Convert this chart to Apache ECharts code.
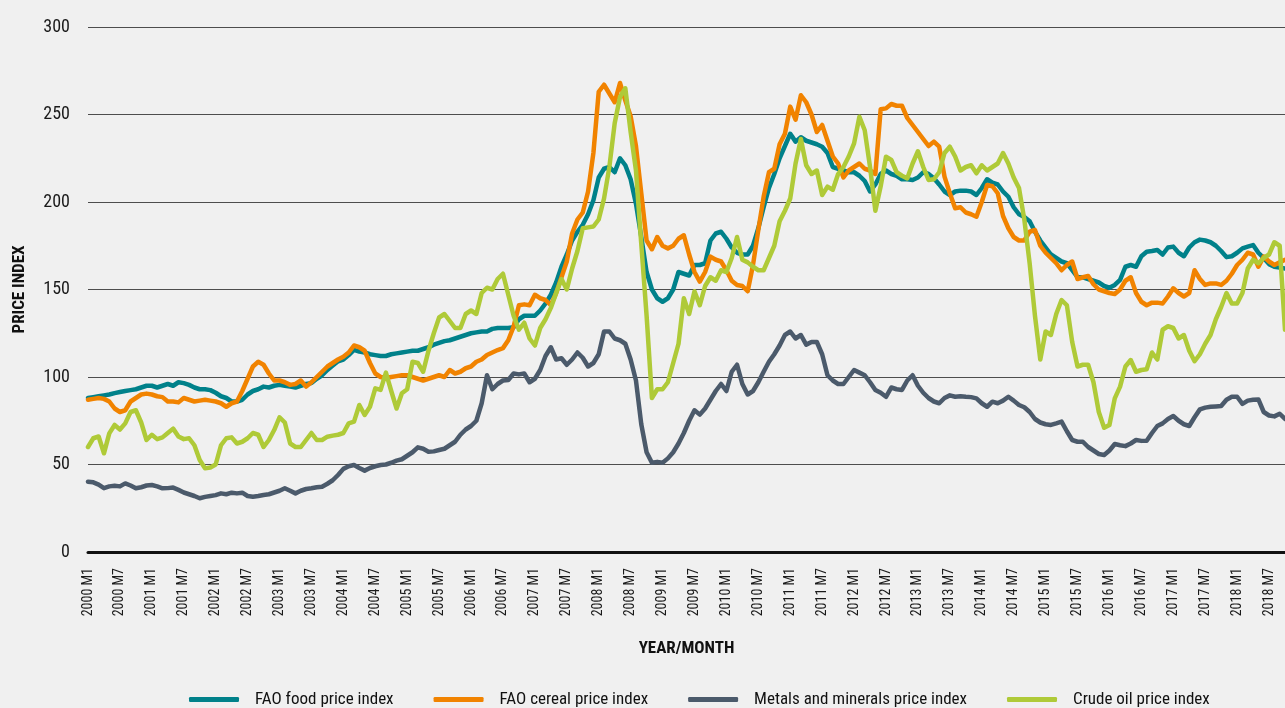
<!DOCTYPE html>
<html>
<head>
<meta charset="utf-8">
<title>Price indices 2000-2018</title>
<script src="https://cdn.jsdelivr.net/npm/echarts@6/dist/echarts.min.js"></script>
<style>
  html, body { margin: 0; padding: 0; background: #f0f0f0; }
  #chart { width: 1285px; height: 708px; }
</style>
</head>
<body>
<div id="chart"></div>
<script>
// Monthly categories, 2000 M1 .. 2018 M10
const months = [];
for (let y = 2000; y <= 2018; y++) {
  for (let m = 1; m <= 12; m++) {
    if (y === 2018 && m > 10) break;
    months.push(y + ' M' + m);
  }
}

const seriesNames = [
  'FAO food price index',
  'FAO cereal price index',
  'Metals and minerals price index',
  'Crude oil price index'
];

// FAO food price index (one row per year)
const foodIndex = [
  88, 88.5, 89, 89.5, 90, 90.8, 91.4, 92, 92.5, 93, 94, 95,
  95, 94, 95, 96, 95, 97, 96.5, 95.5, 94, 93, 93, 92.5,
  91, 89, 88, 86, 86, 87, 90, 92, 93, 94.5, 94, 95,
  95.5, 95, 94.5, 94, 95, 96, 96.5, 99, 101, 104, 106.5, 109,
  110, 112.5, 115.5, 114.5, 114, 113, 112.5, 112, 112, 113, 113.5, 114,
  114.5, 115, 115, 116, 117, 118.5, 119.5, 120.5, 121, 122, 123, 124,
  125, 125.5, 126, 126, 127.5, 128, 128, 128, 128.5, 133, 135, 135,
  135, 138, 142, 147, 154, 163, 170, 178, 183, 187, 193, 201,
  214, 219, 220, 217, 225, 221, 213, 199, 180, 160, 150, 145,
  143, 145, 150, 160, 159, 158, 164, 164, 165, 178, 182, 183,
  179, 174, 171, 170, 170, 175, 185, 197, 208, 216, 225, 232,
  239, 234.5, 237, 235, 234, 233, 231.6, 228, 220, 219, 218, 217,
  217, 215, 212, 206, 210, 216, 218, 216, 215, 213, 213, 212.6,
  214, 217, 216, 213.6, 210, 206, 204, 206, 206.5, 206.5, 206, 204,
  208, 213, 211, 210, 206, 203, 197, 193, 191.5, 189, 183, 178,
  174, 170, 168, 166, 165, 161, 157, 157, 156, 155, 154, 152,
  151, 152.6, 155.5, 163, 164, 163, 169, 171.6, 172, 172.6, 170, 174,
  174.5, 171, 169, 174, 177, 178.5, 178, 177, 175, 172, 168.5, 169,
  171, 173.5, 174.5, 175.4, 171, 168, 164.5, 163, 162.5, 162
];

// FAO cereal price index
const cerealIndex = [
  87, 87.5, 88, 87.5, 86, 82, 80, 81, 86, 88, 90, 90.5,
  90, 89, 88.5, 86, 86, 85.5, 88, 87, 86, 86.5, 87, 86.5,
  86, 85, 83, 85, 86, 92, 99, 106, 108.7, 107, 102, 98,
  98, 97, 95.5, 96, 98, 94.5, 97, 100, 103, 106, 108, 110,
  111.6, 114, 118, 117, 115, 108, 102, 100, 99.4, 100, 100.5, 101,
  101, 100, 99, 98, 99, 100, 101, 100, 104, 102, 103, 105,
  106, 108.7, 110, 112.6, 114, 115.4, 116.5, 121, 128.8, 141, 141.5, 141,
  147, 145, 144, 141, 148, 157, 166, 182, 190, 194, 206, 228,
  263, 267, 262, 257, 268, 258, 249, 232, 205, 178, 173, 180,
  175, 173.5, 175, 179, 181, 170, 160, 154.5, 160, 168.8, 167, 166,
  161, 155, 152.6, 152, 149, 164, 184, 203, 217, 219, 233, 239,
  254.5, 247, 261, 257, 250, 240, 244, 235, 226, 222, 214, 218,
  220, 222, 219, 218, 216, 253, 253.5, 256, 255, 255, 248, 244,
  240, 236, 232, 234.5, 231.6, 214.5, 205, 196.4, 197, 194, 193, 191.6,
  200, 209.7, 209, 205, 192, 185, 180, 178, 178, 183, 184, 175,
  171, 168, 165, 161, 164, 166, 156, 157, 157.7, 153, 150, 149,
  148, 147.4, 150, 155, 157, 148, 143, 141, 142.5, 142.5, 142, 146,
  150.7, 148, 146, 148, 161, 156, 152.6, 153.5, 153.5, 152.6, 155, 159,
  164, 167, 171, 170, 163, 168.8, 166, 164, 165.5, 167
];

// Metals and minerals price index
const metalsIndex = [
  40.2, 39.8, 38.5, 36.5, 37.5, 37.8, 37.5, 39.2, 38, 36.4, 37, 38,
  38.3, 37.5, 36.4, 36.5, 36.8, 35.5, 34, 33, 32, 30.7, 31.5, 32,
  32.5, 33.5, 33, 33.9, 33.5, 33.9, 32, 31.6, 32, 32.6, 33, 34,
  35, 36.4, 35, 33.5, 35, 36, 36.4, 37, 37.3, 39, 41, 44,
  47.5, 49, 49.7, 48, 46.5, 48, 49, 49.7, 50, 51, 52.2, 53,
  55, 57, 59.8, 59, 57.3, 57.5, 58.3, 59, 61, 63, 67, 70,
  72, 75, 85, 101, 93, 96, 98, 98.3, 102, 101.5, 102, 97,
  99, 104, 112, 117, 110, 110.7, 107, 110, 114, 111, 106, 108,
  113, 126, 126, 122, 121, 119, 110, 98, 73, 57, 51, 51.5,
  51, 53.5, 57, 62, 68, 75, 81, 78.5, 82, 87, 92, 96,
  92, 103, 107, 96, 90, 92, 97, 103, 108.7, 113, 118, 124,
  126, 122, 124, 118.5, 120, 120, 113, 101, 98, 96, 96, 100,
  104, 102.5, 101, 97, 92.6, 91, 88.7, 94, 93, 92.6, 98, 101,
  95, 91, 88, 86, 85, 88, 89.5, 88.7, 89, 88.7, 88.5, 87.8,
  85, 83, 85.9, 85, 86.5, 88.7, 86.5, 84, 82.7, 80, 76, 74,
  73, 72.6, 73.5, 74.5, 69, 64, 63, 63, 60, 58, 56, 55.4,
  58, 61.7, 61, 60.5, 62, 64, 63.5, 63.6, 68, 72, 73.5, 76,
  77.7, 75, 73, 72, 77, 81.5, 82.5, 83, 83.2, 83.4, 87, 88.7,
  88.7, 84.6, 86.5, 87, 87.2, 80, 78, 77.5, 79, 76
];

// Crude oil price index
const crudeIndex = [
  60, 65, 66, 56.4, 67.8, 72.6, 70, 73.5, 80, 81, 74, 64,
  67, 64.5, 65.5, 68, 70.5, 66, 64.5, 65, 61, 52.6, 47.8, 48.3,
  50, 61, 65, 65.5, 62, 63, 65, 68, 67, 60, 64, 69.7,
  77, 74, 62, 60, 60, 64, 68, 64, 64, 65.9, 66.5, 67,
  68, 73.5, 74.5, 84, 78.3, 83, 93.5, 92.6, 102.5, 92, 82, 90.7,
  93, 108.7, 108, 103, 115, 125, 134, 136, 132, 128, 128, 136,
  138, 136, 148, 151, 150, 156, 159, 147, 135, 127, 131, 122,
  118, 128, 133, 139.5, 148, 156, 150, 162, 172, 185, 185.5, 186,
  190, 202, 220, 245, 260, 265, 240, 218, 176, 135, 88, 93,
  93, 97, 108, 119, 145, 136, 149, 141, 152, 157, 155, 161,
  160, 168, 180, 167, 165.5, 163, 161, 161, 168, 175, 189, 195,
  202, 222, 236, 221, 216, 218, 204, 208.8, 207, 216, 220, 226,
  233.5, 248.7, 241, 220, 195, 209, 225.9, 224, 217, 215, 213.5, 222,
  229, 220, 212.6, 213, 217, 228, 231.6, 226, 218, 220, 221, 216.4,
  221, 218, 220, 222, 228, 222, 214, 208, 190, 165, 135, 110,
  126, 124, 136, 144, 141, 120, 106, 107, 107, 97, 80, 71,
  72.6, 87.8, 94.5, 106, 109.7, 103, 104, 104.4, 114, 110, 127, 129,
  128, 122, 124, 115, 109, 113, 119, 124, 133, 140, 148, 142,
  142, 148, 162, 167, 165, 168, 170, 177, 175, 127
];

const seriesColors = ['#00818a', '#f18300', '#4b5a6b', '#afca38'];
const seriesData = [foodIndex, cerealIndex, metalsIndex, crudeIndex];

const FONT = "'Roboto Condensed', 'DejaVu Sans Condensed', sans-serif";

const txt = (size, extra) => Object.assign({ fontFamily: FONT, fontSize: size, color: '#1a1a1a' }, extra || {});

const chart = echarts.init(document.getElementById('chart'), null, { renderer: 'canvas' });

chart.setOption({
  backgroundColor: '#f0f0f0',
  animation: false,
  textStyle: { fontFamily: FONT },
  grid: { left: 88, right: 0, top: 27, bottom: 156, containLabel: false },
  xAxis: {
    type: 'category',
    data: months,
    boundaryGap: false,
    name: 'YEAR/MONTH',
    nameLocation: 'middle',
    nameGap: 88,
    nameTextStyle: txt(17, { fontWeight: 'bold', color: '#111' }),
    axisLine: { lineStyle: { color: '#111', width: 3 } },
    axisTick: { show: false },
    axisLabel: Object.assign({ interval: 5, rotate: 90, margin: 16 }, txt(14)),
    splitLine: { show: false }
  },
  yAxis: {
    type: 'value',
    min: 0,
    max: 300,
    interval: 50,
    name: 'PRICE INDEX',
    nameLocation: 'middle',
    nameGap: 60,
    nameRotate: 90,
    nameTextStyle: txt(17, { fontWeight: 'bold', color: '#111' }),
    axisLine: { show: false },
    axisTick: { show: false },
    axisLabel: Object.assign({ margin: 18 }, txt(18)),
    splitLine: { lineStyle: { color: '#4d4d4d', width: 1.2 } }
  },
  legend: {
    data: seriesNames,
    left: 184,
    top: 686,
    icon: 'roundRect',
    itemWidth: 50,
    itemHeight: 5,
    itemGap: 40,
    textStyle: txt(17, { color: '#111', padding: [0, 0, 0, 11] })
  },
  series: seriesNames.map((name, k) => ({
    name: name,
    type: 'line',
    data: seriesData[k],
    showSymbol: false,
    symbol: 'none',
    smooth: false,
    color: seriesColors[k],
    lineStyle: { width: 4.5, color: seriesColors[k], join: 'round', cap: 'round' },
    z: 2 + k
  }))
});
</script>
</body>
</html>
